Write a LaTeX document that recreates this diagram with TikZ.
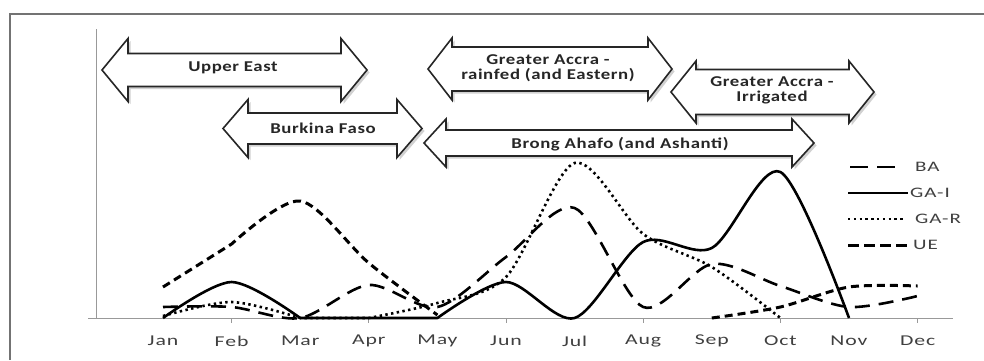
\documentclass[tikz,border=0pt]{standalone}
\usepackage{fontspec}
\setmainfont{Carlito}
\newfontfamily\arrfont[FakeStretch=1.25,LetterSpace=4]{Carlito}
\newfontfamily\axfont[FakeStretch=1.45,LetterSpace=6]{Carlito}
\usetikzlibrary{shadows}
\newcommand\dblarr[6]{%
  \path[arrowbox] (#1,#3) -- (#1+#6,#3-#4) -- (#1+#6,#3-#5) -- (#2-#6,#3-#5) -- (#2-#6,#3-#4) -- (#2,#3)
    -- (#2-#6,#3+#4) -- (#2-#6,#3+#5) -- (#1+#6,#3+#5) -- (#1+#6,#3+#4) -- cycle;}
\begin{document}
\begin{tikzpicture}[x=1pt,y=-1pt,
  arrowbox/.style={draw=black!85, line width=1.6pt, line join=miter, fill=white,
    drop shadow={shadow xshift=2.5pt, shadow yshift=-2.5pt, fill=black!45, opacity=0.4}},
  arrlabel/.style={font=\arrfont\bfseries\fontsize{15}{15}\selectfont, text=black!85, align=center, inner sep=0pt},
  axlabel/.style={font=\axfont\fontsize{15}{15}\selectfont, text=black!75, inner sep=0pt},
  leglabel/.style={font=\axfont\fontsize{14.5}{14.5}\selectfont, text=black!75, inner sep=0pt, anchor=west},
  axisline/.style={draw=black!40, line width=1pt},
  frameline/.style={draw=black!55, line width=1.2pt},
  serBA/.style={line width=2.6pt, dash pattern=on 15pt off 9pt},
  serGAI/.style={line width=2.6pt, line join=round},
  serGAR/.style={line width=2.6pt, dash pattern=on 2.4pt off 3.4pt},
  serUE/.style={line width=3pt, dash pattern=on 8pt off 5pt},
]
\useasboundingbox[fill=white] (0,0) rectangle (984,360);
% frame
\draw[frameline] (10,360) -- (10,14) -- (984,14);
% axes
\coordinate (ytop) at (96,29);
\coordinate (orig) at (96,318);
\coordinate (xend) at (953,318);
\coordinate (xstart) at (88,318);
\draw[axisline] (ytop) -- (orig);
\draw[axisline] (xstart) -- (xend);
\foreach \tx in {231.6,368.8,506,643.2,780.4,917.6} \draw[axisline] (\tx,318) -- (\tx,323);
% month labels
\foreach \m [count=\i from 0] in {Jan,Feb,Mar,Apr,May,Jun,Jul,Aug,Sep,Oct,Nov,Dec}
  \node[axlabel] (lab\m) at (163+68.6*\i,341) {\m};
% series
\draw[serUE] (163,287) -- (231.6,244) -- plot[smooth] coordinates {(231.6,244) (300.2,201) (368.8,263) (437.4,315)};
\draw[serUE] plot[smooth] coordinates {(711.8,318) (780.4,307) (849,287) (917.6,286)};
\draw[serBA] plot[smooth] coordinates {(163,307) (231.6,307) (300.2,318) (368.8,285) (437.4,307) (506,257) (574.6,208) (643.2,307) (711.8,264) (780.4,286) (849,307) (917.6,296)};
\draw[serGAR] plot[smooth] coordinates {(163,316) (231.6,302) (300.2,318)} -- (368.8,318) -- plot[smooth] coordinates {(368.8,318) (437.4,303) (506,277) (574.6,163) (643.2,234) (711.8,267) (780.4,318)};
\draw[serGAI] plot[smooth] coordinates {(163,318) (231.6,282) (300.2,318)} -- (437.4,318) -- plot[smooth] coordinates {(437.4,318) (506,282) (574.6,318) (643.2,242) (711.8,248) (780.4,172) (849,318)};
% block arrows
\dblarr{102}{367}{70}{31.5}{16.5}{26}
\dblarr{223}{422}{128.5}{29}{15.5}{25}
\dblarr{428}{672}{69}{31}{22}{24}
\dblarr{671}{874}{92}{31}{22.5}{25}
\dblarr{424}{814}{143}{24}{13}{22}
\node[arrlabel] (ue) at (233,68) {Upper East};
\node[arrlabel] (bf) at (323,128) {Burkina Faso};
\node[arrlabel] (gar) at (548,68.5) {Greater Accra -\\rainfed (and Eastern)};
\node[arrlabel] (gai) at (772,90.5) {Greater Accra -\\Irrigated};
\node[arrlabel] (ba) at (620,144) {Brong Ahafo (and Ashanti)};
% legend
\coordinate (lba1) at (850,167); \coordinate (lba2) at (895,167);
\coordinate (lgi1) at (848,193); \coordinate (lgi2) at (908,193);
\coordinate (lgr1) at (848,219); \coordinate (lgr2) at (903,219);
\coordinate (lue1) at (848,245); \coordinate (lue2) at (907,245);
\draw[line width=2.6pt, dash pattern=on 18pt off 9pt] (lba1) -- (lba2);
\draw[serGAI] (lgi1) -- (lgi2);
\draw[serGAR] (lgr1) -- (lgr2);
\draw[line width=3pt, dash pattern=on 11pt off 5pt] (lue1) -- (lue2);
\node[leglabel] (tba) at (915,167) {BA};
\node[leglabel] (tgi) at (910,193) {GA-I};
\node[leglabel] (tgr) at (915,219) {GA-R};
\node[leglabel] (tue) at (913,245) {UE};
\end{tikzpicture}
\end{document}
